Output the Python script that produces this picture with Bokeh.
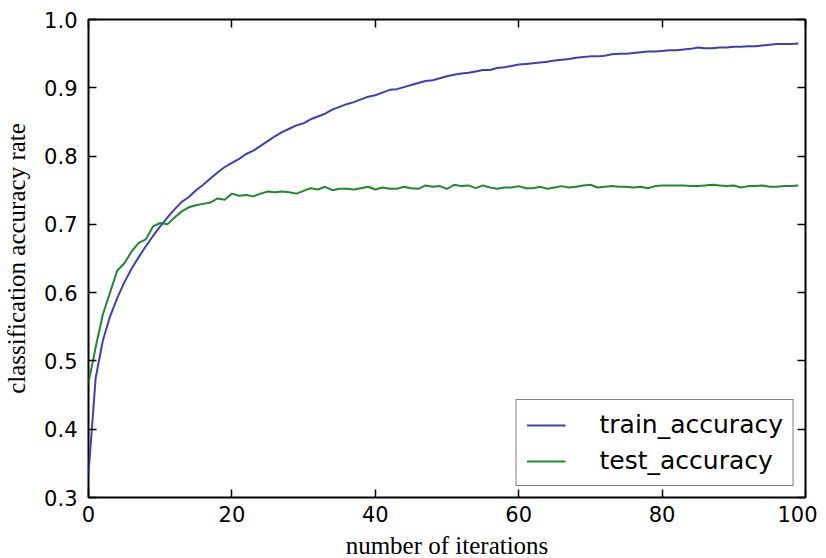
from bokeh.plotting import figure
from bokeh.models import LinearAxis, Range1d, FixedTicker, Legend, LegendItem, NumeralTickFormatter
from bokeh.embed import file_html
from bokeh.resources import INLINE

iterations = list(range(100))
train_accuracy = [
    0.335, 0.475, 0.530, 0.565, 0.592, 0.615, 0.635, 0.652, 0.668, 0.683,
    0.697, 0.710, 0.722, 0.733, 0.740, 0.750, 0.758, 0.767, 0.776, 0.784,
    0.790, 0.796, 0.803, 0.808, 0.815, 0.822, 0.829, 0.835, 0.840, 0.845,
    0.848, 0.854, 0.858, 0.862, 0.868, 0.872, 0.876, 0.879, 0.883, 0.887,
    0.889, 0.893, 0.897, 0.898, 0.901, 0.904, 0.907, 0.910, 0.911, 0.914,
    0.917, 0.919, 0.921, 0.922, 0.924, 0.926, 0.926, 0.929, 0.930, 0.932,
    0.934, 0.935, 0.936, 0.937, 0.938, 0.940, 0.941, 0.942, 0.944, 0.945,
    0.946, 0.946, 0.947, 0.949, 0.950, 0.950, 0.951, 0.952, 0.953, 0.953,
    0.954, 0.955, 0.955, 0.956, 0.957, 0.959, 0.958, 0.958, 0.959, 0.959,
    0.960, 0.960, 0.961, 0.961, 0.962, 0.963, 0.964, 0.964, 0.964, 0.965,
]
test_accuracy = [
    0.468, 0.520, 0.568, 0.600, 0.632, 0.643, 0.660, 0.673, 0.678, 0.697,
    0.702, 0.700, 0.710, 0.719, 0.725, 0.728, 0.730, 0.732, 0.738, 0.736,
    0.745, 0.742, 0.743, 0.741, 0.745, 0.748, 0.747, 0.748, 0.747, 0.745,
    0.749, 0.753, 0.751, 0.755, 0.750, 0.752, 0.752, 0.751, 0.753, 0.755,
    0.751, 0.754, 0.752, 0.752, 0.755, 0.753, 0.752, 0.757, 0.755, 0.756,
    0.752, 0.758, 0.756, 0.757, 0.753, 0.757, 0.754, 0.752, 0.754, 0.754,
    0.756, 0.753, 0.753, 0.755, 0.752, 0.754, 0.756, 0.754, 0.755, 0.757,
    0.758, 0.754, 0.755, 0.756, 0.755, 0.755, 0.754, 0.755, 0.753, 0.756,
    0.757, 0.757, 0.757, 0.757, 0.756, 0.756, 0.757, 0.758, 0.757, 0.756,
    0.757, 0.754, 0.756, 0.756, 0.757, 0.755, 0.755, 0.756, 0.756, 0.757,
]
x_ticks = [0, 20, 40, 60, 80, 100]
y_ticks = [0.3, 0.4, 0.5, 0.6, 0.7, 0.8, 0.9, 1.0]

p = figure(
    frame_width=717, frame_height=478,
    x_range=Range1d(0, 100), y_range=Range1d(0.3, 1.0),
    output_backend="svg", toolbar_location=None,
    min_border_left=80, min_border_top=19, min_border_right=12, min_border_bottom=56,
)
p.outline_line_color = "black"
p.outline_line_width = 2
p.grid.visible = False
p.background_fill_color = "white"
p.border_fill_color = "white"

r1 = p.line(iterations, train_accuracy, line_color="#3c40b8", line_width=2)
r2 = p.line(iterations, test_accuracy, line_color="#1e8a30", line_width=2)

for ax in (p.xaxis[0], p.yaxis[0]):
    ax.major_tick_in = 8
    ax.major_tick_out = 0
    ax.minor_tick_line_color = None
    ax.axis_line_color = None
    ax.major_tick_line_color = "black"
    ax.major_tick_line_width = 1.5
    ax.major_label_text_font = "DejaVu Sans"
    ax.major_label_text_font_size = "21px"
    ax.major_label_text_color = "black"
    ax.axis_label_text_font = "Liberation Serif"
    ax.axis_label_text_font_size = "25px"
    ax.axis_label_text_font_style = "normal"
    ax.axis_label_text_color = "black"

p.xaxis[0].ticker = FixedTicker(ticks=x_ticks)
p.yaxis[0].ticker = FixedTicker(ticks=y_ticks)
p.yaxis[0].formatter = NumeralTickFormatter(format="0.0")
p.xaxis[0].axis_label = "number of iterations"
p.yaxis[0].axis_label = "classification accuracy rate"
p.xaxis[0].major_label_standoff = 8
p.xaxis[0].axis_label_standoff = 7
p.yaxis[0].major_label_standoff = 11
p.yaxis[0].axis_label_standoff = 11

top = LinearAxis(ticker=FixedTicker(ticks=x_ticks),
                 major_label_overrides={t: "" for t in x_ticks},
                 major_tick_in=8, major_tick_out=0, minor_tick_line_color=None,
                 axis_line_color=None, major_tick_line_width=1.5, major_label_standoff=0)
right = LinearAxis(ticker=FixedTicker(ticks=y_ticks),
                   major_label_overrides={t: "" for t in y_ticks},
                   major_tick_in=8, major_tick_out=0, minor_tick_line_color=None,
                   axis_line_color=None, major_tick_line_width=1.5, major_label_standoff=0)
p.add_layout(top, "above")
p.add_layout(right, "right")

legend = Legend(items=[LegendItem(label="train_accuracy", renderers=[r1]),
                       LegendItem(label="test_accuracy", renderers=[r2])],
                location="bottom_right")
legend.margin = 11
legend.border_line_color = "black"
legend.border_line_width = 1.5
legend.label_text_font = "DejaVu Sans"
legend.label_text_font_size = "25px"
legend.label_text_color = "black"
legend.glyph_width = 39
legend.glyph_height = 26
legend.label_standoff = 34
legend.spacing = 7
legend.padding = 10
legend.label_height = 26
legend.background_fill_alpha = 1
p.add_layout(legend, "center")

open("out.html", "w").write(file_html(p, INLINE))
